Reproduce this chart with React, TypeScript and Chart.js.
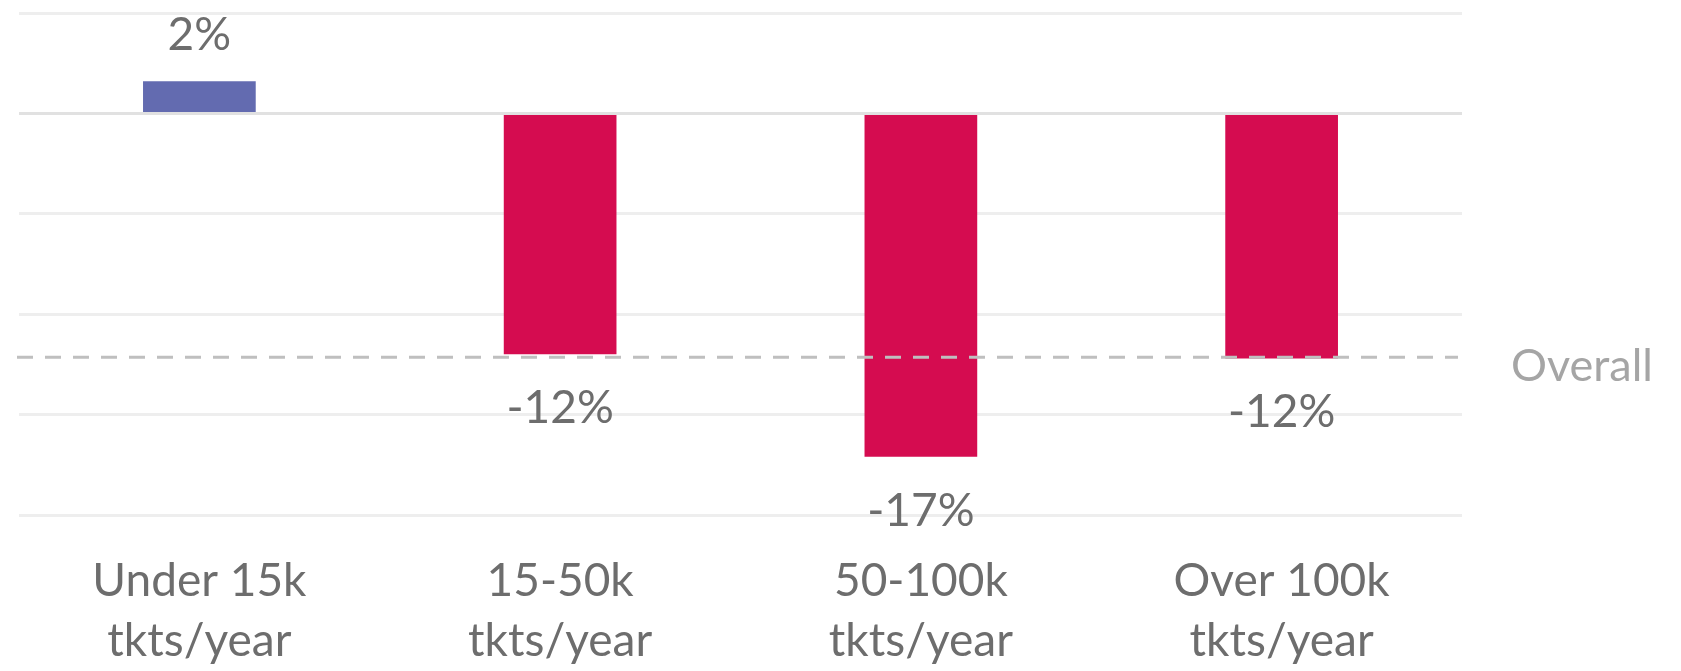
import React, { useEffect, useRef } from "react";
import { Chart, registerables } from "chart.js";

Chart.register(...registerables);

const categories: string[][] = [
  ["Under 15k", "tkts/year"],
  ["15-50k", "tkts/year"],
  ["50-100k", "tkts/year"],
  ["Over 100k", "tkts/year"],
];
const changeValues: number[] = [1.6, -12.0, -17.1, -12.2];
const overallValue: number = -12.15;
const overallLabel = "Overall";
const yMin = -20;
const yMax = 5;
const yStep = 5;

const POS_COLOR = "#636bb0";
const NEG_COLOR = "#d50c50";
const TEXT_COLOR = "#6d6d6d";
const FONT = "Lato";

const overlayPlugin = {
  id: "overlay",
  afterDatasetsDraw(chart: any) {
    const { ctx, chartArea, scales } = chart;
    const y = scales.y;
    const meta = chart.getDatasetMeta(0);
    ctx.save();
    // overall dashed line
    const oy = y.getPixelForValue(overallValue);
    ctx.strokeStyle = "#bfbfbf";
    ctx.lineWidth = 3;
    ctx.setLineDash([16, 12]);
    ctx.beginPath();
    ctx.moveTo(chartArea.left - 2, oy);
    ctx.lineTo(chartArea.right - 4, oy);
    ctx.stroke();
    ctx.setLineDash([]);
    ctx.fillStyle = "#a5a5a5";
    ctx.font = `45px ${FONT}`;
    ctx.textAlign = "left";
    ctx.textBaseline = "alphabetic";
    ctx.fillText(overallLabel, chartArea.right + 49, oy + 24);
    // data labels
    ctx.font = `46px ${FONT}`;
    ctx.fillStyle = TEXT_COLOR;
    ctx.textAlign = "center";
    meta.data.forEach((bar: any, i: number) => {
      const v = changeValues[i];
      const txt = `${Math.round(v)}%`;
      if (v >= 0) {
        ctx.fillText(txt, bar.x, bar.y - 31);
      } else {
        ctx.fillText(txt, bar.x, bar.y + 69);
      }
    });
    ctx.restore();
  },
};

export default function App() {
  const ref = useRef<HTMLCanvasElement | null>(null);
  useEffect(() => {
    document.body.style.margin = "0";
    if (!ref.current) return;
    const chart = new Chart(ref.current, {
      type: "bar",
      data: {
        labels: categories,
        datasets: [
          {
            data: changeValues,
            backgroundColor: changeValues.map((v) => (v >= 0 ? POS_COLOR : NEG_COLOR)),
            borderWidth: 0,
            barPercentage: 0.3124,
            categoryPercentage: 1,
          },
        ],
      },
      options: {
        animation: false,
        responsive: false,
        layout: { padding: { left: 19, right: 219, top: 13, bottom: -36 } },
        plugins: { legend: { display: false }, tooltip: { enabled: false } },
        scales: {
          x: {
            grid: { display: false, drawTicks: false },
            border: { display: false },
            ticks: {
              padding: 36,
              color: TEXT_COLOR,
              font: { family: FONT, size: 46, lineHeight: 60 / 46 },
              maxRotation: 0,
              autoSkip: false,
            },
          },
          y: {
            min: yMin,
            max: yMax,
            ticks: { display: false, stepSize: yStep },
            border: { display: false },
            grid: {
              drawTicks: false,
              lineWidth: 3,
              color: (c: any) => (c.tick && c.tick.value === 0 ? "#e1e1e1" : "#eeeeee"),
            },
          },
        },
      },
      plugins: [overlayPlugin],
    });
    return () => chart.destroy();
  }, []);
  return (
    <div style={{ width: 1681, height: 671 }}>
      <canvas ref={ref} width={1681} height={671} style={{ display: "block" }} />
    </div>
  );
}
